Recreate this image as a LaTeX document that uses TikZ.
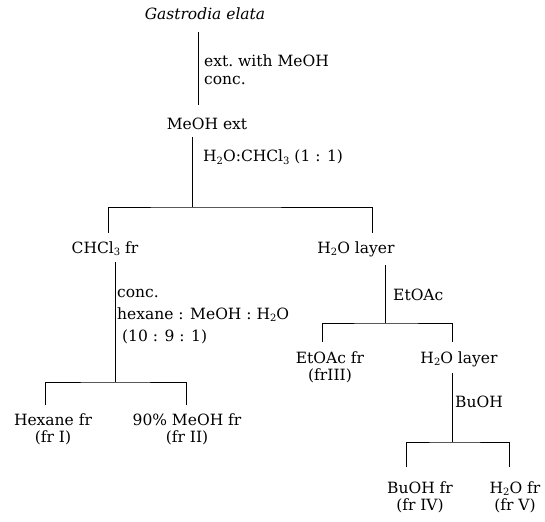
\documentclass[tikz,border=0pt]{standalone}
\usepackage{fontspec}
\setmainfont{DejaVu Serif}
\newcommand{\sbs}[1]{\raisebox{-0.35ex}{\fontsize{10}{10}\selectfont #1}}
\newcommand{\cst}[1]{\begin{tabular}[t]{@{}c@{}}#1\end{tabular}}
\newcommand{\lst}[1]{\begin{tabular}[t]{@{}l@{}}#1\end{tabular}}
\begin{document}
\begin{tikzpicture}[x=1pt,y=-1pt,
  every node/.style={inner sep=0pt,font=\fontsize{15.5}{17}\selectfont},
  ln/.style={line width=1pt,black},
  txt/.style={anchor=base},
  lbl/.style={anchor=base west}]
\fill[white] (0,0) rectangle (545,521);
\useasboundingbox (0,0) rectangle (545,521);
% nodes
\node[txt] (g) at (205,20) {\textit{Gastrodia elata}};
\node[lbl] (l1) at (204,67) {\lst{ext.\ with MeOH\\[1pt]conc.}};
\node[txt] (m) at (207,130) {MeOH ext};
\node[lbl] (l2) at (203,162) {H\sbs{2}O:CHCl\sbs{3} (1 : 1)};
\node[txt] (c) at (105,253) {CHCl\sbs{3} fr};
\node[txt] (w1) at (356,253) {H\sbs{2}O layer};
\node[lbl] (l3) at (117,297) {\lst{conc.\\[5pt]hexane : MeOH : H\sbs{2}O\\[5pt]\ (10 : 9 : 1)}};
\node[txt] (hx) at (53,425) {\cst{Hexane fr\\(fr I)}};
\node[txt] (mf) at (187,425) {\cst{90\% MeOH fr\\(fr II)}};
\node[lbl] (l4) at (393,300) {EtOAc};
\node[txt] (e) at (330,363) {\cst{EtOAc fr\\(frIII)}};
\node[txt] (w2) at (459,363) {H\sbs{2}O layer};
\node[lbl] (l5) at (455,407) {BuOH};
\node[txt] (b) at (420,493) {\cst{BuOH fr\\(fr IV)}};
\node[txt] (h) at (515,493) {\cst{H\sbs{2}O fr\\(fr V)}};
% coordinates
\coordinate (t1) at (198,32);  \coordinate (b1) at (198,105);
\coordinate (t2) at (192,137); \coordinate (j1) at (192,207);
\coordinate (d1l) at (108,233); \coordinate (d1r) at (372,233);
\coordinate (t3) at (115,262); \coordinate (j2) at (115,382);
\coordinate (d2l) at (45,405); \coordinate (d2r) at (186,405);
\coordinate (t4) at (385,265); \coordinate (j3) at (385,323);
\coordinate (d3l) at (322,342); \coordinate (d3r) at (452,342);
\coordinate (t5) at (452,373); \coordinate (j4) at (452,442);
\coordinate (d4l) at (406,467); \coordinate (d4r) at (509,467);
% connectors
\draw[ln] (t1) -- (b1);
\draw[ln] (t2) -- (j1);
\draw[ln] (d1l) |- (j1) -| (d1r);
\draw[ln] (t3) -- (j2);
\draw[ln] (d2l) |- (j2) -| (d2r);
\draw[ln] (t4) -- (j3);
\draw[ln] (d3l) |- (j3) -| (d3r);
\draw[ln] (t5) -- (j4);
\draw[ln] (d4l) |- (j4) -| (d4r);
\end{tikzpicture}
\end{document}
